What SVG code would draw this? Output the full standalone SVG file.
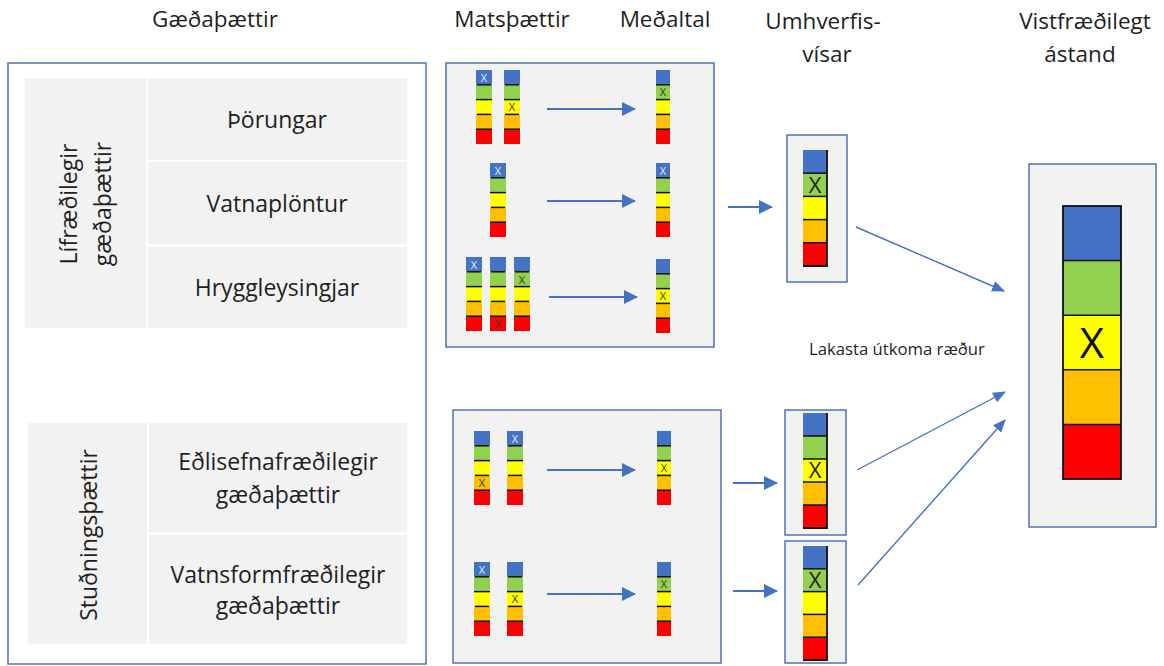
<svg xmlns="http://www.w3.org/2000/svg" width="1164" height="666" viewBox="0 0 1164 666">
<style>
  .t { font-family: "Open Sans", "Liberation Sans", sans-serif; fill: #1f1f1f; }
  .h { font-size: 22.5px; text-anchor: middle; }
  .c { font-size: 23px; text-anchor: middle; }
  .cell { fill: #f2f2f2; }
  .panel { fill: #f2f2f2; stroke: #5072b8; stroke-width: 1.5; }
  .frame { fill: #ffffff; stroke: #5072b8; stroke-width: 1.5; }
  .b { fill: #4472c4; } .g { fill: #92d050; } .y { fill: #ffff00; } .o { fill: #ffc000; } .r { fill: #ff0000; }
  .sep { stroke: #111; stroke-width: 1.5; }
  .arr { stroke: #4472c4; stroke-width: 2; fill: none; marker-end: url(#ah); }
  .arr2 { stroke: #4472c4; stroke-width: 1.4; fill: none; marker-end: url(#ah2); }
  .xs { font-family: "Open Sans", "Liberation Sans", sans-serif; font-size: 11px; text-anchor: middle; fill: #3a3a2a; }
  .xl { fill: #e4ecf9; }
  .xm { font-family: "Open Sans", "Liberation Sans", sans-serif; font-size: 22px; text-anchor: middle; fill: #222; }
</style>
<defs>
  <marker id="ah" viewBox="0 0 14 14" refX="13" refY="7" markerWidth="14" markerHeight="14" markerUnits="userSpaceOnUse" orient="auto">
    <path d="M0,0 L14,7 L0,14 z" fill="#4472c4"/>
  </marker>
  <marker id="ah2" viewBox="0 0 12 10" refX="11" refY="5" markerWidth="13" markerHeight="11" markerUnits="userSpaceOnUse" orient="auto">
    <path d="M0,0 L12,5 L0,10 z" fill="#4472c4"/>
  </marker>
  <g id="bar16">
    <rect class="b" x="0" y="0" width="16" height="14.8"/>
    <rect class="g" x="0" y="14.8" width="16" height="14.8"/>
    <rect class="y" x="0" y="29.6" width="16" height="14.8"/>
    <rect class="o" x="0" y="44.4" width="16" height="14.8"/>
    <rect class="r" x="0" y="59.2" width="16" height="14.8"/>
    <line class="sep" x1="1" y1="14.8" x2="15" y2="14.8"/>
    <line class="sep" x1="0" y1="29.6" x2="16" y2="29.6"/>
    <line class="sep" x1="1" y1="44.4" x2="15" y2="44.4"/>
    <line class="sep" x1="0" y1="59.2" x2="16" y2="59.2"/>
  </g>
  <g id="bar14">
    <rect class="b" x="0" y="0" width="14" height="14.8"/>
    <rect class="g" x="0" y="14.8" width="14" height="14.8"/>
    <rect class="y" x="0" y="29.6" width="14" height="14.8"/>
    <rect class="o" x="0" y="44.4" width="14" height="14.8"/>
    <rect class="r" x="0" y="59.2" width="14" height="14.8"/>
    <line class="sep" x1="0" y1="14.8" x2="14" y2="14.8"/>
    <line class="sep" x1="0" y1="29.6" x2="14" y2="29.6"/>
    <line class="sep" x1="0" y1="44.4" x2="14" y2="44.4"/>
    <line class="sep" x1="0" y1="59.2" x2="14" y2="59.2"/>
  </g>
</defs>

<g id="headers">
  <text class="t h" x="215" y="27">Gæðaþættir</text>
  <text class="t h" x="512" y="27">Matsþættir</text>
  <text class="t h" x="665" y="27">Meðaltal</text>
  <text class="t h" x="823" y="29">Umhverfis-</text>
  <text class="t h" x="827" y="62">vísar</text>
  <text class="t h" x="1085" y="29">Vistfræðilegt</text>
  <text class="t h" x="1080" y="62">ástand</text>
</g>

<g id="gaedathaettir">
  <rect class="frame" x="8" y="63" width="418" height="601"/>
  <g id="liffraedilegir">
    <rect class="cell" x="25" y="78" width="121" height="250"/>
    <text class="t c" transform="translate(77,204) rotate(-90)" x="0" y="0">Lífræðilegir</text>
    <text class="t c" transform="translate(111,204) rotate(-90)" x="0" y="0">gæðaþættir</text>
  </g>
  <g id="thorungar">
    <rect class="cell" x="148" y="78" width="259" height="82"/>
    <text class="t c" x="277" y="128">Þörungar</text>
  </g>
  <g id="vatnaplontur">
    <rect class="cell" x="148" y="162" width="259" height="82"/>
    <text class="t c" x="277" y="212">Vatnaplöntur</text>
  </g>
  <g id="hryggleysingjar">
    <rect class="cell" x="148" y="247" width="259" height="81"/>
    <text class="t c" x="277" y="296">Hryggleysingjar</text>
  </g>
  <g id="studningsthaettir">
    <rect class="cell" x="28" y="423" width="119" height="221"/>
    <text class="t c" transform="translate(97,535) rotate(-90)" x="0" y="0">Stuðningsþættir</text>
  </g>
  <g id="edlisefna">
    <rect class="cell" x="149" y="423" width="258" height="109"/>
    <text class="t c" x="278" y="470">Eðlisefnafræðilegir</text>
    <text class="t c" x="278" y="503">gæðaþættir</text>
  </g>
  <g id="vatnsform">
    <rect class="cell" x="149" y="535" width="258" height="109"/>
    <text class="t c" x="278" y="583">Vatnsformfræðilegir</text>
    <text class="t c" x="278" y="614">gæðaþættir</text>
  </g>
</g>

<g id="mat-top">
  <rect class="panel" x="446" y="63" width="268" height="284"/>
  <use href="#bar16" x="476" y="70"/><text class="xs xl" x="484" y="82">X</text>
  <use href="#bar16" x="504" y="70"/><text class="xs" x="512" y="111">X</text>
  <use href="#bar14" x="656" y="70"/><text class="xs" x="663" y="96">X</text>
  <use href="#bar16" x="490" y="163"/><text class="xs xl" x="498" y="175">X</text>
  <use href="#bar14" x="656" y="163"/><text class="xs xl" x="663" y="175">X</text>
  <use href="#bar16" x="466" y="257"/><text class="xs xl" x="474" y="269">X</text>
  <use href="#bar16" x="490" y="257"/><text class="xs" x="498" y="328">X</text>
  <use href="#bar16" x="514" y="257"/><text class="xs" x="522" y="284">X</text>
  <use href="#bar14" x="656" y="259"/><text class="xs" x="663" y="300">X</text>
</g>

<g id="mat-bottom">
  <rect class="panel" x="453" y="410" width="268" height="253"/>
  <use href="#bar16" x="474" y="431"/><text class="xs" x="482" y="487">X</text>
  <use href="#bar16" x="507" y="431"/><text class="xs xl" x="515" y="443">X</text>
  <use href="#bar14" x="657" y="431"/><text class="xs" x="664" y="472">X</text>
  <use href="#bar16" x="474" y="562"/><text class="xs xl" x="482" y="574">X</text>
  <use href="#bar16" x="507" y="562"/><text class="xs" x="515" y="603">X</text>
  <use href="#bar14" x="657" y="562"/><text class="xs" x="664" y="588">X</text>
</g>

<g id="umhverfis-1">
  <rect class="panel" x="787" y="135" width="60" height="147"/>
  <rect class="b" x="803" y="150" width="24" height="23.2"/>
  <rect class="g" x="803" y="173.2" width="24" height="23.2"/>
  <rect class="y" x="803" y="196.4" width="24" height="23.2"/>
  <rect class="o" x="803" y="219.6" width="24" height="23.2"/>
  <rect class="r" x="803" y="242.8" width="24" height="23.2"/>
  <line class="sep" x1="803" y1="173.2" x2="827" y2="173.2"/>
  <line class="sep" x1="803" y1="196.4" x2="827" y2="196.4"/>
  <line class="sep" x1="803" y1="219.6" x2="827" y2="219.6"/>
  <line class="sep" x1="803" y1="242.8" x2="827" y2="242.8"/>
  <path d="M827,150 V266 H803" fill="none" stroke="#111" stroke-width="1.8"/>
  <text class="xm" x="815" y="193">X</text>
</g>

<g id="umhverfis-2">
  <rect class="panel" x="785" y="410" width="61" height="125"/>
  <rect class="b" x="803" y="413" width="24" height="23"/>
  <rect class="g" x="803" y="436" width="24" height="23"/>
  <rect class="y" x="803" y="459" width="24" height="23"/>
  <rect class="o" x="803" y="482" width="24" height="23"/>
  <rect class="r" x="803" y="505" width="24" height="23"/>
  <line class="sep" x1="803" y1="436" x2="827" y2="436"/>
  <line class="sep" x1="803" y1="459" x2="827" y2="459"/>
  <line class="sep" x1="803" y1="482" x2="827" y2="482"/>
  <line class="sep" x1="803" y1="505" x2="827" y2="505"/>
  <path d="M827,413 V528 H803" fill="none" stroke="#111" stroke-width="1.8"/>
  <text class="xm" x="815" y="478">X</text>
</g>

<g id="umhverfis-3">
  <rect class="panel" x="785" y="541" width="61" height="122"/>
  <rect class="b" x="803" y="546" width="24" height="22.8"/>
  <rect class="g" x="803" y="568.8" width="24" height="22.8"/>
  <rect class="y" x="803" y="591.6" width="24" height="22.8"/>
  <rect class="o" x="803" y="614.4" width="24" height="22.8"/>
  <rect class="r" x="803" y="637.2" width="24" height="22.8"/>
  <line class="sep" x1="803" y1="568.8" x2="827" y2="568.8"/>
  <line class="sep" x1="803" y1="591.6" x2="827" y2="591.6"/>
  <line class="sep" x1="803" y1="614.4" x2="827" y2="614.4"/>
  <line class="sep" x1="803" y1="637.2" x2="827" y2="637.2"/>
  <path d="M827,546 V660 H803" fill="none" stroke="#111" stroke-width="1.8"/>
  <text class="xm" x="815" y="588">X</text>
</g>

<g id="vistfraedilegt">
  <rect class="panel" x="1029" y="164" width="127" height="363"/>
  <rect class="b" x="1063" y="206" width="58" height="54.6"/>
  <rect class="g" x="1063" y="260.6" width="58" height="54.6"/>
  <rect class="y" x="1063" y="315.2" width="58" height="54.6"/>
  <rect class="o" x="1063" y="369.8" width="58" height="54.6"/>
  <rect class="r" x="1063" y="424.4" width="58" height="54.6"/>
  <line class="sep" x1="1063" y1="260.6" x2="1121" y2="260.6"/>
  <line class="sep" x1="1063" y1="315.2" x2="1121" y2="315.2"/>
  <line class="sep" x1="1063" y1="369.8" x2="1121" y2="369.8"/>
  <line class="sep" x1="1063" y1="424.4" x2="1121" y2="424.4"/>
  <rect x="1063" y="206" width="58" height="273" fill="none" stroke="#111" stroke-width="1.8"/>
  <text x="1092" y="358" font-family="Open Sans, Liberation Sans, sans-serif" font-size="42" text-anchor="middle" fill="#111">X</text>
</g>

<g id="note">
  <text class="t" x="809" y="355" font-size="16.7">Lakasta útkoma ræður</text>
</g>

<g id="connectors">
  <line class="arr" x1="547" y1="109" x2="635" y2="109"/>
  <line class="arr" x1="547" y1="201" x2="635" y2="201"/>
  <line class="arr" x1="549" y1="297" x2="637" y2="297"/>
  <line class="arr" x1="547" y1="470" x2="635" y2="470"/>
  <line class="arr" x1="547" y1="594" x2="635" y2="594"/>
  <line class="arr" x1="728" y1="207" x2="772" y2="207"/>
  <line class="arr" x1="733" y1="483" x2="777" y2="483"/>
  <line class="arr" x1="733" y1="591" x2="777" y2="591"/>
  <line class="arr2" x1="856" y1="227" x2="1004" y2="291"/>
  <line class="arr2" x1="857" y1="470" x2="1005" y2="392"/>
  <line class="arr2" x1="858" y1="585" x2="1005" y2="420"/>
</g>
</svg>
